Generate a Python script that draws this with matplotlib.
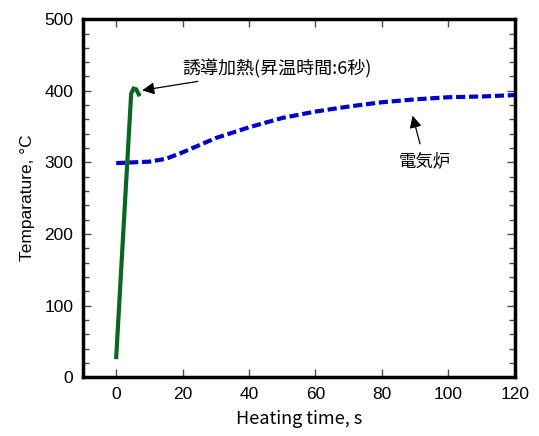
import matplotlib
matplotlib.use("Agg")
import matplotlib.pyplot as plt
from matplotlib.ticker import MultipleLocator

plt.rcParams['font.family'] = ['Noto Sans CJK JP', 'DejaVu Sans']

# induction heating (6 s ramp)
ih_time = [0, 4.5, 5.2, 6.0, 6.8]
ih_temp = [28, 396, 403, 402, 395]

# electric furnace
ef_time = [0, 10, 15, 20, 30, 40, 50, 60, 70, 80, 90, 100, 110, 120]
ef_temp = [299, 301, 305, 314, 334, 349, 362, 371, 378, 384, 388, 391, 392, 394]

fig = plt.figure(figsize=(5.39, 4.36), dpi=100)
ax = fig.add_axes([0.154, 0.135, 0.801, 0.821])

ax.plot(ef_time, ef_temp, color="#0000cc", lw=3.0, dashes=(2.2, 0.9),
        solid_capstyle="butt", dash_capstyle="butt")
ax.plot(ih_time, ih_temp, color="#0b6623", lw=3.0, solid_joinstyle="miter")

ax.set_xlim(-10, 120)
ax.set_ylim(0, 500)
ax.xaxis.set_major_locator(MultipleLocator(20))
ax.yaxis.set_major_locator(MultipleLocator(100))
ax.yaxis.set_minor_locator(MultipleLocator(20))
ax.tick_params(which="both", direction="in", top=True, right=True,
               width=1, color="0.3")
ax.tick_params(which="major", length=6, pad=7)
ax.tick_params(which="minor", length=4)
for lbl in ax.get_xticklabels() + ax.get_yticklabels():
    lbl.set_fontfamily("Liberation Sans")
    lbl.set_fontsize(12.5)
for s in ax.spines.values():
    s.set_linewidth(2.5)

ax.set_xlabel("Heating time, s", fontsize=13, labelpad=6)
ax.set_ylabel("Temparature, °C", fontsize=12.5, labelpad=7,
              fontfamily="Liberation Sans")

arrow = dict(arrowstyle="-|>", color="black", lw=0.9, mutation_scale=18)
ax.annotate("誘導加熱(昇温時間:6秒)", xy=(7.0, 400), xytext=(20, 431),
            fontsize=13, va="center", ha="left", arrowprops=arrow)
ax.annotate("電気炉", xy=(89, 369), xytext=(85, 302),
            fontsize=12.5, va="center", ha="left",
            arrowprops=dict(arrow, shrinkA=4))

fig.savefig("out.png", dpi=100)
